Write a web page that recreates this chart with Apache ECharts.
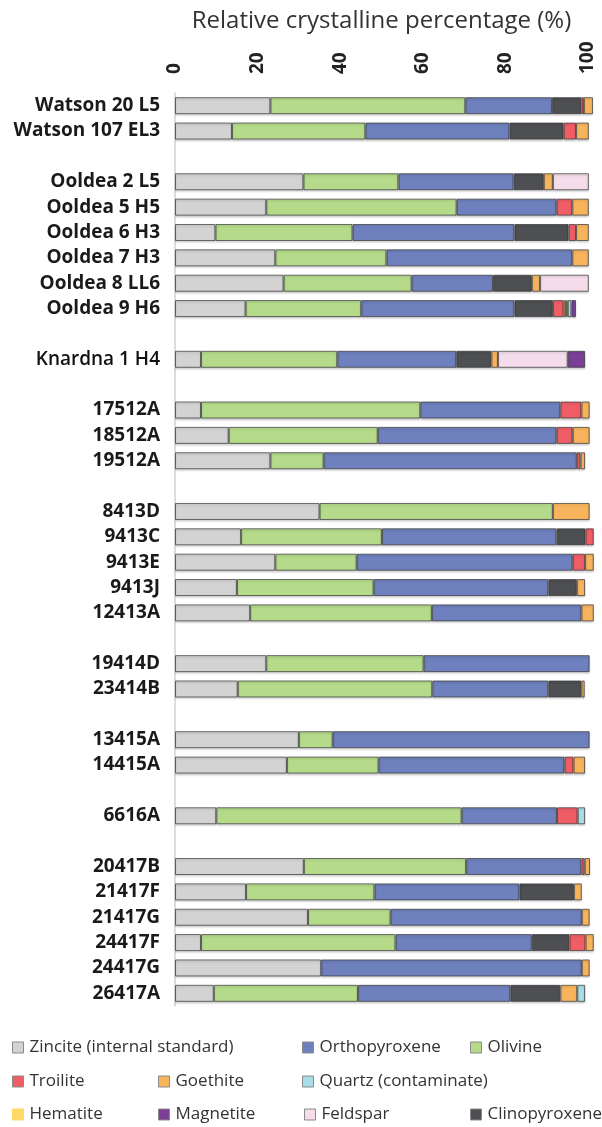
<!DOCTYPE html>
<html>
<head>
<meta charset="utf-8">
<script src="https://cdn.jsdelivr.net/npm/echarts@6/dist/echarts.min.js"></script>
<style>
  html, body { margin: 0; padding: 0; background: #fff; }
  #chart { width: 602px; height: 1127px; }
</style>
</head>
<body>
<div id="chart"></div>
<script>
// empty strings are the gaps between sample groups
const categories = [
    "Watson 20 L5", "Watson 107 EL3", "",
    "Ooldea 2 L5", "Ooldea 5 H5", "Ooldea 6 H3", "Ooldea 7 H3", "Ooldea 8 LL6", "Ooldea 9 H6", "",
    "Knardna 1 H4", "",
    "17512A", "18512A", "19512A", "",
    "8413D", "9413C", "9413E", "9413J", "12413A", "",
    "19414D", "23414B", "",
    "13415A", "14415A", "",
    "6616A", "",
    "20417B", "21417F", "21417G", "24417F", "24417G", "26417A",
];

const zincite = [23.1, 13.8, null, 31.1, 22.1, 9.8, 24.3, 26.3, 17.1, null, 6.3, null, 6.3, 13.0, 23.1, null, 35.0, 16.0, 24.3, 15.0, 18.2, null, 22.1, 15.2, null, 30.0, 27.1, null, 10.0, null, 31.2, 17.2, 32.2, 6.3, 35.4, 9.4];
const olivine = [47.2, 32.3, null, 23.0, 46.1, 33.2, 26.9, 31.0, 28.0, null, 33.0, null, 53.1, 36.1, 12.9, null, 56.5, 34.1, 19.7, 33.1, 44.0, null, 38.1, 47.1, null, 8.2, 22.2, null, 59.4, null, 39.3, 31.1, 20.0, 47.1, null, 34.9];
const orthopyroxene = [21.0, 34.9, null, 27.9, 24.2, 39.2, 45.0, 19.7, 37.1, null, 28.8, null, 33.9, 43.3, 61.3, null, null, 42.3, 52.3, 42.3, 36.2, null, 40.2, 28.1, null, 62.2, 45.0, null, 23.1, null, 27.9, 35.1, 46.3, 33.0, 63.1, 36.9];
const clinopyroxene = [7.1, 13.1, null, 7.3, null, 13.1, null, 9.4, 9.3, null, 8.5, null, null, null, null, null, null, 7.0, null, 6.9, null, null, null, 8.0, null, null, null, null, null, null, null, 13.2, null, 9.1, null, 12.1];
const troilite = [0.6, 3.0, null, null, 3.8, 1.8, null, null, 2.6, null, null, null, 5.1, 3.9, 0.9, null, null, 2.0, 3.0, null, null, null, null, null, null, null, 2.2, null, 5.0, null, 0.8, null, null, 3.9, null, null];
const goethite = [2.2, 3.1, null, 2.2, 4.0, 3.1, 4.0, 2.0, 0.6, null, 1.6, null, 2.0, 4.1, 1.1, null, 8.9, null, 2.1, 2.0, 3.0, null, null, 0.8, null, null, 2.8, null, null, null, 1.3, 1.9, 1.9, 2.0, 1.9, 4.1];
const hematite = [null, null, null, null, null, null, null, null, 0.4, null, null, null, null, null, null, null, null, null, null, null, null, null, null, null, null, null, null, null, null, null, null, null, null, null, null, null];
const quartz = [null, null, null, null, null, null, null, null, 0.9, null, null, null, null, null, null, null, null, null, null, null, null, null, null, null, null, null, null, null, 1.8, null, null, null, null, null, null, 1.9];
const feldspar = [null, null, null, 8.7, null, null, null, 11.8, null, null, 16.9, null, null, null, null, null, null, null, null, null, null, null, null, null, null, null, null, null, null, null, null, null, null, null, null, null];
const magnetite = [null, null, null, null, null, null, null, null, 1.1, null, 4.2, null, null, null, null, null, null, null, null, null, null, null, null, null, null, null, null, null, null, null, null, null, null, null, null, null];

const xTicks = [0, 20, 40, 60, 80, 100];

// stacking order, left to right
const phases = [
    { name: "Zincite (internal standard)", data: zincite, color: "#d3d3d3" },
    { name: "Olivine", data: olivine, color: "#b4da8a" },
    { name: "Orthopyroxene", data: orthopyroxene, color: "#6e80bd" },
    { name: "Clinopyroxene", data: clinopyroxene, color: "#4e4f52" },
    { name: "Troilite", data: troilite, color: "#f05d66" },
    { name: "Goethite", data: goethite, color: "#f8b45c" },
    { name: "Hematite", data: hematite, color: "#ffd966" },
    { name: "Quartz (contaminate)", data: quartz, color: "#a9dde8" },
    { name: "Feldspar", data: feldspar, color: "#f4dcea" },
    { name: "Magnetite", data: magnetite, color: "#7b3f98" },
];

// legend spots: name, icon left, row centre
const legendSpots = [
    ["Zincite (internal standard)", 12, 1049],
    ["Orthopyroxene", 302, 1049],
    ["Olivine", 470, 1049],
    ["Troilite", 12, 1083],
    ["Goethite", 158, 1083],
    ["Quartz (contaminate)", 302, 1083],
    ["Hematite", 12, 1116],
    ["Magnetite", 158, 1116],
    ["Feldspar", 304, 1116],
    ["Clinopyroxene", 470, 1116],
];

let chartDom = document.getElementById("chart");
let myChart = echarts.init(chartDom);

let series = phases.map((p) => ({
    name: p.name,
    type: "bar",
    stack: "total",
    data: p.data,
    barWidth: 17,
    clip: false,
    itemStyle: {
        color: p.color,
        borderColor: "rgba(60,60,60,0.75)",
        borderWidth: 1,
        shadowColor: "rgba(0,0,0,0.18)",
        shadowBlur: 2,
        shadowOffsetY: 1.5,
    },
    emphasis: { disabled: true },
}));

let legends = legendSpots.map(([name, left, y]) => ({
    data: [name],
    left: left,
    top: y - 10,
    padding: 0,
    icon: "rect",
    itemWidth: 11,
    itemHeight: 11,
    itemGap: 0,
    selectedMode: false,
    itemStyle: {
        borderColor: name === "Hematite" ? "#ffd966" : "#8a8a8a",
        borderWidth: 1,
        shadowBlur: 0,
        shadowOffsetY: 0,
    },
    textStyle: {
        fontFamily: "Open Sans",
        fontSize: 17,
        color: "#333",
        padding: [0, 0, 0, 1],
    },
}));

let option = {
    animation: false,
    backgroundColor: "#fff",
    grid: {
        left: 175,
        right: 14,
        top: 93,
        height: 913,
        containLabel: false,
    },
    legend: legends,
    xAxis: {
        type: "value",
        position: "top",
        min: 0,
        max: 100,
        interval: 20,
        name: "Relative crystalline percentage (%)",
        nameLocation: "middle",
        nameGap: 55,
        nameTextStyle: {
            fontFamily: "Open Sans",
            fontSize: 24,
            color: "#333",
        },
        axisLine: { show: false },
        axisTick: { show: false },
        splitLine: { show: false },
        axisLabel: {
            rotate: -90,
            margin: 19,
            fontFamily: "Open Sans",
            fontWeight: "bold",
            fontSize: 19,
            color: "#222",
            formatter: (v) => (xTicks.includes(v) ? String(v) : ""),
        },
    },
    yAxis: {
        type: "category",
        inverse: true,
        data: categories,
        axisLine: { show: true, lineStyle: { color: "#d0d0d0", width: 1.5 } },
        axisTick: { show: false },
        splitLine: { show: false },
        axisLabel: {
            interval: 0,
            margin: 15,
            fontFamily: "Open Sans",
            fontWeight: "bold",
            fontSize: 19,
            color: "#1a1a1a",
            formatter: (v) => (v === "Knardna 1 H4" ? "{n|" + v + "}" : v),
            rich: {
                n: {
                    fontFamily: "Open Sans",
                    fontWeight: 600,
                    fontSize: 19,
                    color: "#111",
                },
            },
        },
    },
    series,
};

option && myChart.setOption(option);
</script>
</body>
</html>
